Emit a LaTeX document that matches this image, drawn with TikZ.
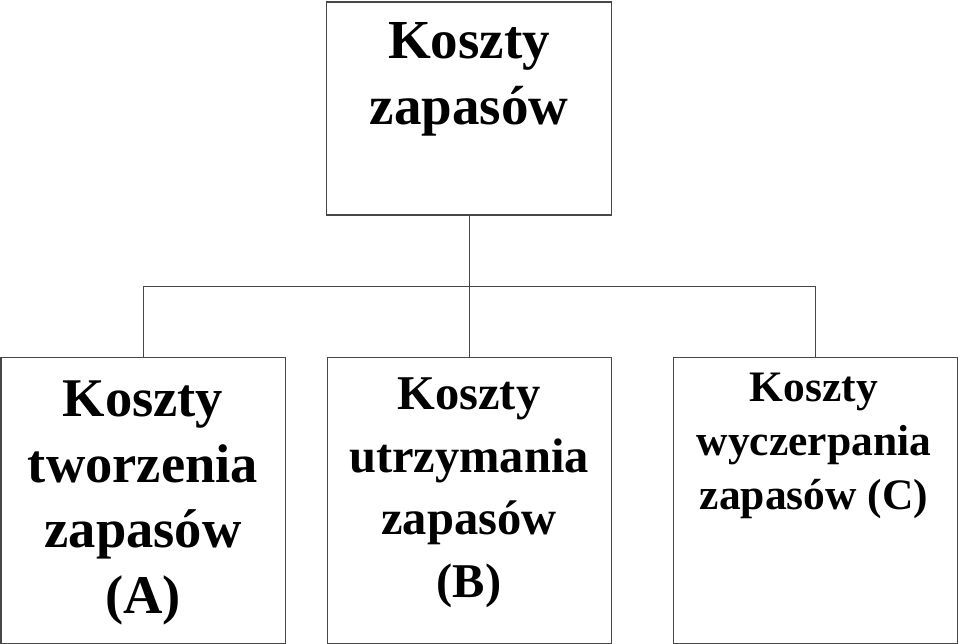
\documentclass[tikz,border=0pt]{standalone}
\usepackage{fontspec}
\setmainfont{Liberation Serif}
\begin{document}
\begin{tikzpicture}[x=1pt,y=-1pt,
  box/.style={draw=black!72, line width=1.3pt, inner sep=0pt, anchor=north west},
  conn/.style={draw=black!72, line width=1.3pt},
  txt/.style={inner sep=0pt, align=center, anchor=north, font=\bfseries}]
\useasboundingbox (0,0) rectangle (959,644);
% boxes
\node[box, minimum width=285pt, minimum height=213pt] (top) at (326,1.5) {};
\node[box, minimum width=284pt, minimum height=286pt] (A) at (0.5,357) {};
\node[box, minimum width=284pt, minimum height=286pt] (B) at (326.5,357) {};
\node[box, minimum width=284pt, minimum height=286pt] (C) at (673,357) {};
% texts
\node[txt, font={\fontsize{55}{66.5}\selectfont\bfseries}] (ttop) at (469,22) {Koszty\\zapasów};
\node[txt, font={\fontsize{54.5}{65.5}\selectfont\bfseries}] (tA) at (143,381) {Koszty\\tworzenia\\zapasów\\(A)};
\node[txt, font={\fontsize{48.5}{62.5}\selectfont\bfseries}] (tB) at (469,378) {Koszty\\utrzymania\\zapasów\\(B)};
\node[txt, font={\fontsize{43.5}{54}\selectfont\bfseries}] (tC) at (814,372.5) {Koszty\\wyczerpania\\zapasów (C)};
% connectors
\coordinate (hub) at (top.south |- 0,286.5);
\draw[conn] (top.south) -- (hub);
\draw[conn] (hub) -| (A.north);
\draw[conn] (hub) -| (C.north);
\draw[conn] (hub) -- (B.north);
\end{tikzpicture}
\end{document}
